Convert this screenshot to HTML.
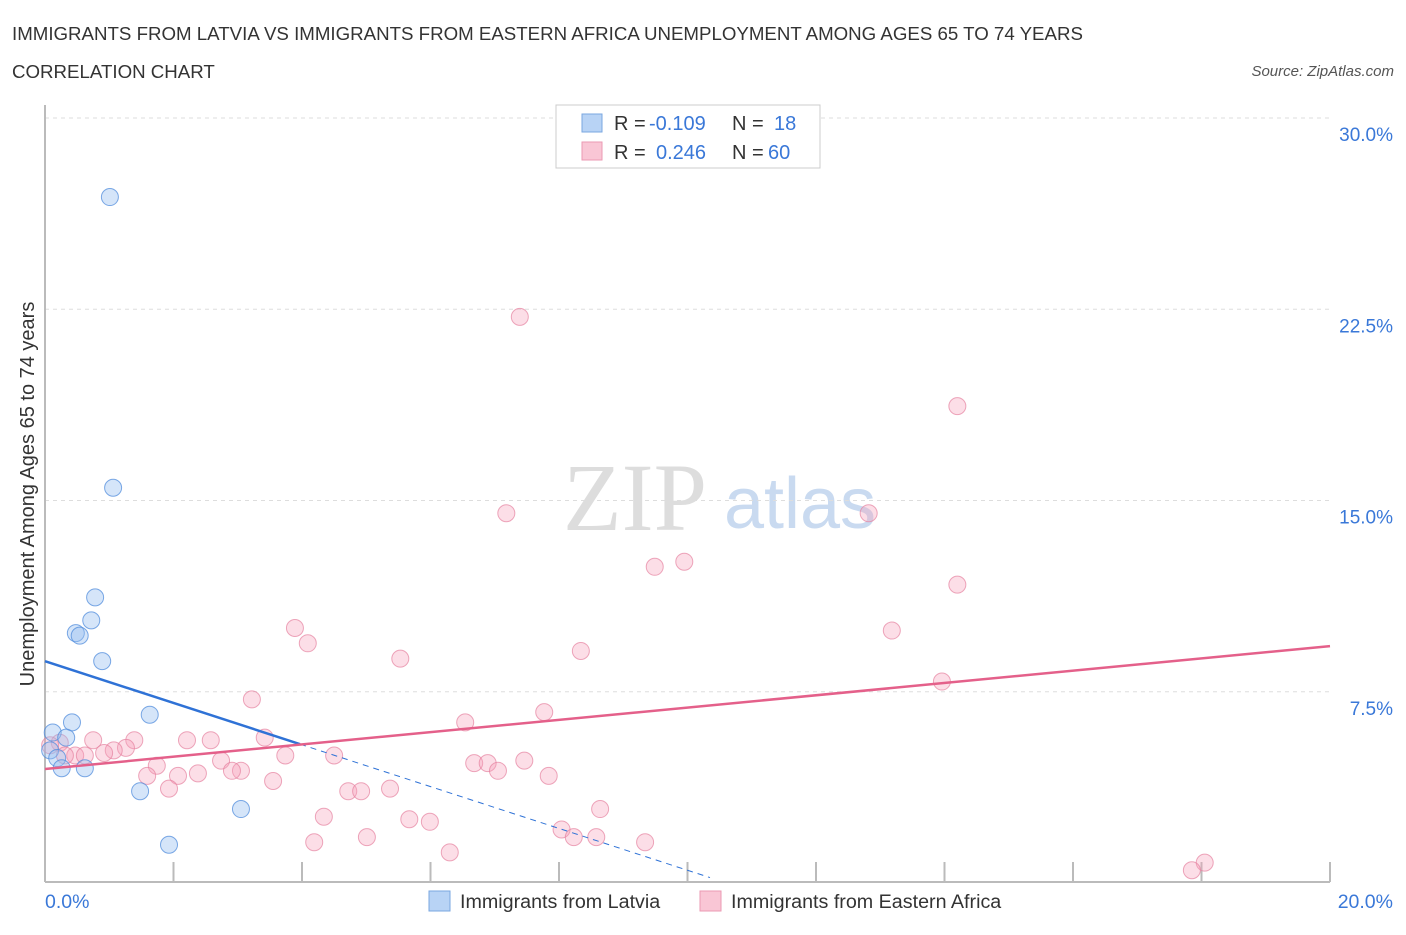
<!DOCTYPE html>
<html><head><meta charset="utf-8"><style>
body{margin:0;background:#fff;font-family:"Liberation Sans",sans-serif;}
</style></head><body>
<svg width="1406" height="930" xmlns="http://www.w3.org/2000/svg" font-family="Liberation Sans, sans-serif">
<text x="12" y="40" font-size="18.7" fill="#333">IMMIGRANTS FROM LATVIA VS IMMIGRANTS FROM EASTERN AFRICA UNEMPLOYMENT AMONG AGES 65 TO 74 YEARS</text>
<text x="12" y="78" font-size="18.7" fill="#333">CORRELATION CHART</text>
<text x="1394" y="76" font-size="15" fill="#555" font-style="italic" text-anchor="end">Source: ZipAtlas.com</text>
<text x="635" y="530" font-size="96" fill="#ddd" font-family="Liberation Serif, serif" text-anchor="middle">ZIP</text>
<text x="800" y="528" font-size="72" fill="#c9daf0" text-anchor="middle">atlas</text>
<g id="grid"></g>
<g id="axes"></g>
<g id="marks"></g>
<text transform="translate(34,494) rotate(-90)" font-size="20" fill="#333" text-anchor="middle">Unemployment Among Ages 65 to 74 years</text>
<g>
<rect x="556" y="105" width="264" height="63" fill="#fff" stroke="#ccc"/>
<rect x="582" y="114" width="20" height="18" fill="#b8d3f5" stroke="#7aa7e0"/>
<rect x="582" y="142" width="20" height="18" fill="#f9c6d5" stroke="#eb9ab3"/>
<text x="614" y="130" font-size="20" fill="#333">R =</text>
<text x="649" y="130" font-size="20" fill="#3a78d8">-0.109</text>
<text x="732" y="130" font-size="20" fill="#333">N =</text>
<text x="774" y="130" font-size="20" fill="#3a78d8">18</text>
<text x="614" y="159" font-size="20" fill="#333">R =</text>
<text x="656" y="159" font-size="20" fill="#3a78d8">0.246</text>
<text x="732" y="159" font-size="20" fill="#333">N =</text>
<text x="768" y="159" font-size="20" fill="#3a78d8">60</text>
</g>
<g>
<rect x="429" y="891" width="21" height="20" fill="#b8d3f5" stroke="#7aa7e0"/>
<text x="460" y="908" font-size="19.7" fill="#333">Immigrants from Latvia</text>
<rect x="700" y="891" width="21" height="20" fill="#f9c6d5" stroke="#eb9ab3"/>
<text x="731" y="908" font-size="19.7" fill="#333">Immigrants from Eastern Africa</text>
</g>
</svg>
<script>
const yTicks=[7.5,15,22.5,30];
const yTickLabels=["7.5%","15.0%","22.5%","30.0%"];
const xTickLabels=["0.0%","20.0%"];
const latviaX=[1.01,1.06,0.78,0.72,0.48,0.54,0.89,1.63,0.42,0.12,0.33,0.08,0.19,0.26,0.62,1.48,3.05,1.93];
const latviaY=[26.9,15.5,11.2,10.3,9.8,9.7,8.7,6.6,6.3,5.9,5.7,5.2,4.9,4.5,4.5,3.6,2.9,1.5];
const africaX=[7.39,14.2,7.18,12.82,9.95,9.49,14.2,3.89,4.09,13.18,5.53,8.34,13.96,3.22,7.77,6.54,3.42,2.21,2.58,1.39,0.75,1.26,1.07,0.92,0.23,0.08,0.47,0.31,0.62,3.74,4.5,2.74,1.74,6.68,6.89,7.46,7.05,3.05,2.91,2.38,2.07,1.59,7.84,3.55,1.93,4.72,4.92,5.37,8.64,4.34,5.67,5.99,8.04,8.23,8.58,5.01,4.19,9.34,6.3,18.05,17.85];
const africaY=[22.2,18.7,14.5,14.5,12.6,12.4,11.7,10.0,9.4,9.9,8.8,9.1,7.9,7.2,6.7,6.3,5.7,5.6,5.6,5.6,5.6,5.3,5.2,5.1,5.5,5.4,5.0,5.0,5.0,5.0,5.0,4.8,4.6,4.7,4.7,4.8,4.4,4.4,4.4,4.3,4.2,4.2,4.2,4.0,3.7,3.6,3.6,3.7,2.9,2.6,2.5,2.4,2.1,1.8,1.8,1.8,1.6,1.6,1.2,0.8,0.5];
const latviaTrend=[8.7,-0.82];
const africaTrend=[4.47,0.241];
const NS="http://www.w3.org/2000/svg";
const X=v=>45+v*64.25, Y=v=>883-v*25.5;
function mk(t,a,p){const e=document.createElementNS(NS,t);for(const k in a)e.setAttribute(k,a[k]);p.appendChild(e);return e;}
const grid=document.getElementById('grid'),axes=document.getElementById('axes'),marks=document.getElementById('marks');
yTicks.forEach((v,i)=>{const l=mk('line',{x1:45,x2:1330,y1:Y(v),y2:Y(v),stroke:'#ddd','stroke-dasharray':'4,4'},grid);


const t=mk('text',{x:1393,y:Y(v)+23,'font-size':19,fill:'#3a78d8','text-anchor':'end'},axes);t.textContent=yTickLabels[i];

});
const ax=mk('line',{x1:45,x2:1330,y1:882,y2:882,stroke:'#bbb','stroke-width':2},axes);


const ay=mk('line',{x1:45,x2:45,y1:105,y2:882,stroke:'#bbb','stroke-width':2},axes);


for(let i=1;i<=10;i++){const t=mk('line',{x1:X(i*2),x2:X(i*2),y1:862,y2:882,stroke:'#bbb','stroke-width':2},axes);

}
[[0,'start',45],[20,'end',1393]].forEach((d,i)=>{const t=mk('text',{x:d[2],y:908,'font-size':19.5,fill:'#3a78d8','text-anchor':d[1]},axes);t.textContent=xTickLabels[i];

});
africaX.forEach((x,i)=>{const c=mk('circle',{cx:X(x),cy:Y(africaY[i]),r:8.5,fill:'rgba(245,160,185,0.35)',stroke:'rgba(230,130,160,0.7)'},marks);

});
latviaX.forEach((x,i)=>{const c=mk('circle',{cx:X(x),cy:Y(latviaY[i]),r:8.5,fill:'rgba(150,190,240,0.4)',stroke:'rgba(80,140,220,0.75)'},marks);

});
const lt=v=>latviaTrend[0]+latviaTrend[1]*v, at=v=>africaTrend[0]+africaTrend[1]*v;
const l1=mk('line',{x1:X(0),y1:Y(lt(0)),x2:X(3.97),y2:Y(lt(3.97)),stroke:'#2f72d6','stroke-width':2.5},marks);


const l2=mk('line',{x1:X(3.97),y1:Y(lt(3.97)),x2:X(10.35),y2:Y(lt(10.35)),stroke:'#2f72d6','stroke-width':1,'stroke-dasharray':'6,5'},marks);


const l3=mk('line',{x1:X(0),y1:Y(at(0)),x2:X(20),y2:Y(at(20)),stroke:'#e4608a','stroke-width':2.5},marks);


</script>
</body></html>
